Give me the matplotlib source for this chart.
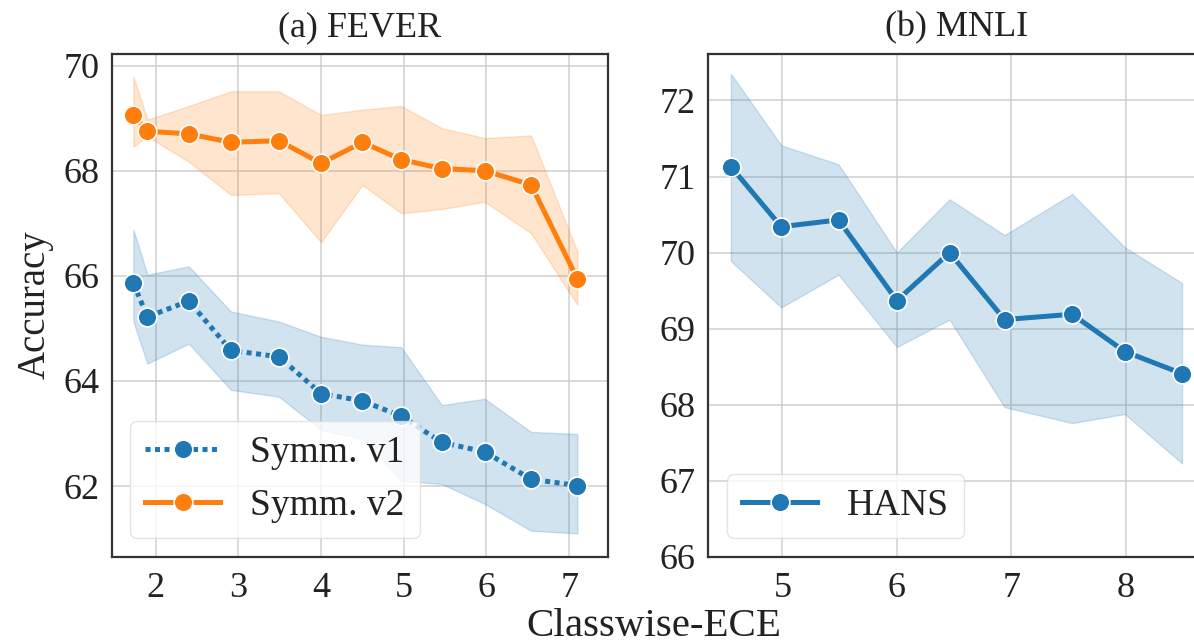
import matplotlib
matplotlib.use("Agg")
import matplotlib.pyplot as plt

plt.rcParams['font.family'] = ['Liberation Serif', 'DejaVu Serif']

# ---------------- data ----------------
fever_x = [1.73, 1.90, 2.40, 2.91, 3.49, 4.00, 4.50, 4.97, 5.46, 5.98, 6.54, 7.10]

v1_mean = [65.86, 65.22, 65.52, 64.58, 64.46, 63.76, 63.62, 63.33, 62.83, 62.65, 62.13, 62.01]
v1_low  = [65.13, 64.33, 64.71, 63.83, 63.70, 63.07, 62.90, 62.10, 62.04, 61.66, 61.15, 61.10]
v1_high = [66.88, 66.02, 66.18, 65.32, 65.13, 64.84, 64.69, 64.64, 63.54, 63.66, 63.03, 62.99]

v2_mean = [69.06, 68.75, 68.70, 68.54, 68.57, 68.14, 68.54, 68.21, 68.04, 68.00, 67.73, 65.94]
v2_low  = [68.46, 68.65, 68.17, 67.54, 67.57, 66.64, 67.73, 67.19, 67.27, 67.41, 66.81, 65.45]
v2_high = [69.79, 68.97, 69.23, 69.51, 69.51, 69.06, 69.16, 69.23, 68.81, 68.62, 68.67, 66.46]

mnli_x = [4.55, 4.99, 5.49, 6.00, 6.46, 6.94, 7.53, 7.99, 8.49]
hans_mean = [71.13, 70.34, 70.43, 69.37, 70.00, 69.12, 69.19, 68.70, 68.41]
hans_low  = [69.89, 69.28, 69.71, 68.76, 69.12, 67.97, 67.76, 67.88, 67.23]
hans_high = [72.35, 71.41, 71.16, 70.00, 70.70, 70.23, 70.77, 70.07, 69.60]

fever_xticks = [2, 3, 4, 5, 6, 7]
fever_yticks = [62, 64, 66, 68, 70]
mnli_xticks = [5, 6, 7, 8]
mnli_yticks = [66, 67, 68, 69, 70, 71, 72]

titles = ["(a) FEVER", "(b) MNLI"]
labels_fever = ["Symm. v1", "Symm. v2"]
label_mnli = "HANS"

BLUE = "#1f77b4"
ORANGE = "#ff7f0e"
FS = 26
LFS = 27

W, H = 1194, 644
fig = plt.figure(figsize=(W / 100, H / 100), dpi=100)

def px_axes(x0, y0, x1, y1):
    return fig.add_axes([x0 / W, 1 - y1 / H, (x1 - x0) / W, (y1 - y0) / H])

ax1 = px_axes(111.7, 54, 608, 557)
ax2 = px_axes(708.3, 54, 1204.6, 557)

def style(ax):
    ax.set_facecolor("white")
    ax.grid(True, color="#cfcfcf", linewidth=1.1, zorder=0)
    ax.set_axisbelow(True)
    for s in ax.spines.values():
        s.set_color("#333333")
        s.set_linewidth(1.6)
    ax.tick_params(axis="both", length=0, labelsize=FS, colors="#222222")
    ax.tick_params(axis="x", pad=11)
    ax.tick_params(axis="y", pad=9)

mk = dict(marker="o", markersize=13.5, markeredgecolor="white", markeredgewidth=1.2)
LW = 3.6

# FEVER
ax1.fill_between(fever_x, v1_low, v1_high, color=BLUE, alpha=0.2, linewidth=1, zorder=2)
ax1.fill_between(fever_x, v2_low, v2_high, color=ORANGE, alpha=0.2, linewidth=1, zorder=2)
ax1.plot(fever_x, v1_mean, color=BLUE, linewidth=LW, linestyle=(0, (1.0, 0.9)),
         label=labels_fever[0], zorder=3, **mk)
ax1.plot(fever_x, v2_mean, color=ORANGE, linewidth=LW, linestyle="-",
         label=labels_fever[1], zorder=3, **mk)
ax1.set_xlim(1.468, 7.47)
ax1.set_ylim(60.65, 70.22)
ax1.set_xticks(fever_xticks)
ax1.set_yticks(fever_yticks)
style(ax1)
ax1.set_title(titles[0], fontsize=FS, pad=13, color="#222222")

# MNLI
ax2.fill_between(mnli_x, hans_low, hans_high, color=BLUE, alpha=0.2, linewidth=1, zorder=2)
ax2.plot(mnli_x, hans_mean, color=BLUE, linewidth=LW, linestyle="-",
         label=label_mnli, zorder=3, **mk)
ax2.set_xlim(4.353, 8.687)
ax2.set_ylim(66, 72.61)
ax2.set_xticks(mnli_xticks)
ax2.set_yticks(mnli_yticks)
style(ax2)
ax2.set_title(titles[1], fontsize=FS, pad=13, color="#222222")

for ax in (ax1, ax2):
    leg = ax.legend(loc="lower left", fontsize=LFS, frameon=True, fancybox=True,
                    framealpha=0.8, edgecolor="#dddddd", handlelength=2.0,
                    borderaxespad=0.5)
    leg.get_frame().set_linewidth(1.0)
    for t in leg.get_texts():
        t.set_color("#222222")

fig.text(35 / W, 1 - 305 / H, "Accuracy", rotation=90, ha="center", va="center",
         fontsize=28, color="#222222")
fig.text(654 / W, 1 - 626 / H, "Classwise-ECE", ha="center", va="center",
         fontsize=29.5, color="#222222")

fig.savefig("out.png", dpi=100, facecolor="white")
